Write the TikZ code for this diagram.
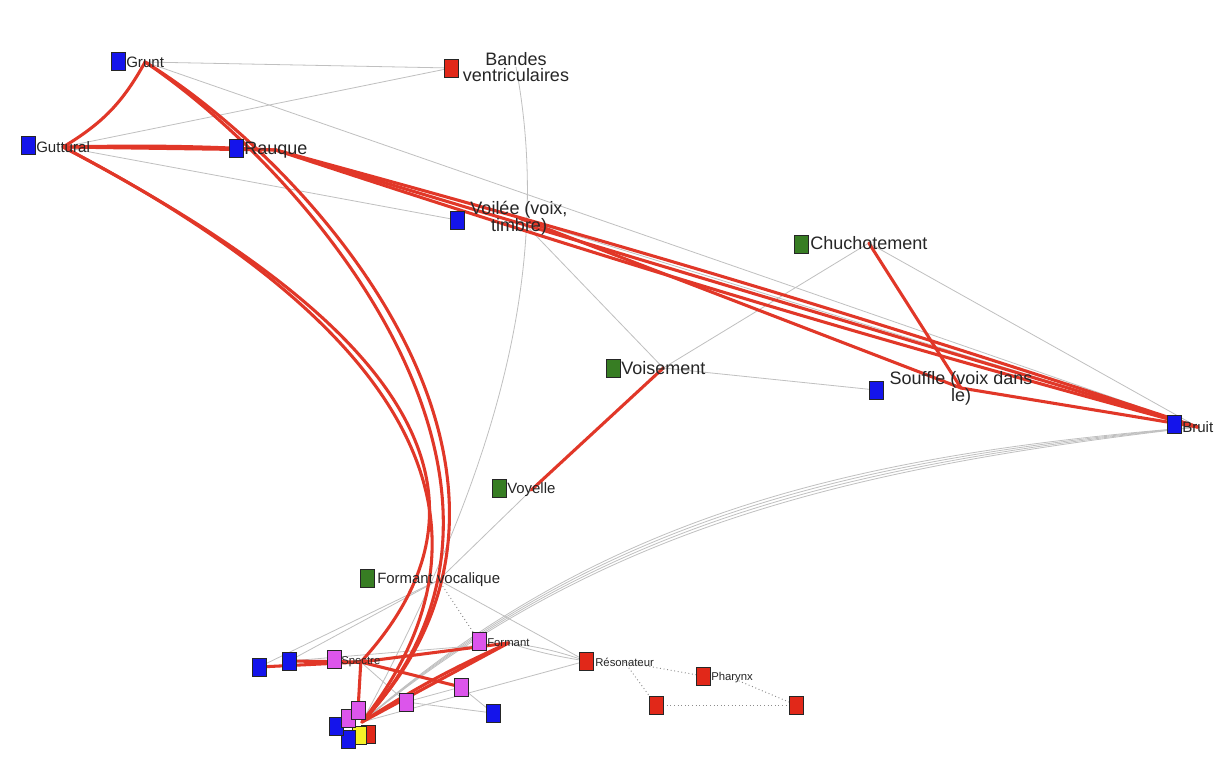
\documentclass[tikz,border=0pt]{standalone}
\usepackage{fontspec}
\setmainfont{Liberation Sans}
\definecolor{nblue}{RGB}{20,20,235}
\definecolor{ngreen}{RGB}{55,125,35}
\definecolor{nred}{RGB}{225,40,25}
\definecolor{npink}{RGB}{220,85,235}
\definecolor{nyellow}{RGB}{245,240,40}
\definecolor{ered}{RGB}{225,55,40}
\definecolor{egray}{RGB}{192,192,192}
\pgfdeclarelayer{bg}
\pgfsetlayers{bg,main}
\tikzset{
 sq/.style={draw=black!85, line width=0.5pt, minimum width=10.5pt, minimum height=13.5pt, inner sep=0pt},
 lbl/.style={inner sep=0pt, text=black!85},
 big/.style={lbl, font=\fontsize{13.5}{15.5}\selectfont, align=center},
 mid/.style={lbl, font=\fontsize{11.2}{12}\selectfont},
 sml/.style={lbl, font=\fontsize{11.3}{12}\selectfont},
 tiny/.style={lbl, font=\fontsize{8.5}{10}\selectfont},
 redge/.style={draw=ered, line width=2.3pt, line cap=round},
 gedge/.style={draw=egray, line width=0.6pt},
 dedge/.style={draw=black!45, line width=0.7pt, dotted},
}
\begin{document}
\begin{tikzpicture}[x=0.75pt,y=-0.75pt]
\useasboundingbox (0,0) rectangle (1232,776);
% ---- labels
\node[sml,anchor=west] (gruntL) at (126,62) {Grunt};
\node[big] (bandesL) at (516,67) {Bandes\\[-3pt]ventriculaires};
\node[sml,anchor=west] (gutL) at (36,147) {Guttural};
\node[big,anchor=west] (rauL) at (244,150) {Rauque};
\node[big] (voileeL) at (519,218) {Voilée (voix,\\[-3pt]timbre)};
\node[big,anchor=west] (chuchL) at (810,243) {Chuchotement};
\node[big,anchor=west] (voisL) at (621,368) {Voisement};
\node[big] (souffleL) at (961,388) {Souffle (voix dans\\[-3pt]le)};
\node[sml,anchor=west] (bruitL) at (1182,427) {Bruit};
\node[mid,anchor=west] (voyL) at (507,490) {Voyelle};
\node[mid,anchor=west] (fvL) at (377,580) {Formant vocalique};
\node[tiny,anchor=west] (formantL) at (487,643) {Formant};
\node[tiny,anchor=west] (spectreL) at (341,662) {Spectre};
\node[tiny,anchor=west] (resL) at (595,662) {Résonateur};
\node[tiny,anchor=west] (pharL) at (711,678) {Pharynx};
% ---- squares
\node[sq,fill=nblue] (grunt) at (118,61) {};
\node[sq,fill=nred] (bandes) at (451,68) {};
\node[sq,fill=nblue] (gut) at (28,145) {};
\node[sq,fill=nblue] (rau) at (236,148) {};
\node[sq,fill=nblue] (voilee) at (457,220) {};
\node[sq,fill=ngreen] (chuch) at (801,244) {};
\node[sq,fill=ngreen] (vois) at (613,368) {};
\node[sq,fill=nblue] (souffle) at (876,390) {};
\node[sq,fill=nblue] (bruit) at (1174,424) {};
\node[sq,fill=ngreen] (voy) at (499,488) {};
\node[sq,fill=ngreen] (fv) at (367,578) {};
\node[sq,fill=npink] (formant) at (479,641) {};
\node[sq,fill=npink] (spectre) at (334,659) {};
\node[sq,fill=nblue] (b2) at (289,661) {};
\node[sq,fill=nblue] (b1) at (259,667) {};
\node[sq,fill=nred] (res) at (586,661) {};
\node[sq,fill=nred] (phar) at (703,676) {};
\node[sq,fill=nred] (r1) at (656,705) {};
\node[sq,fill=nred] (r2) at (796,705) {};
\node[sq,fill=npink] (p1) at (461,687) {};
\node[sq,fill=npink] (p2) at (406,702) {};
\node[sq,fill=nblue] (b3) at (493,713) {};
\node[sq,fill=nred] (cred) at (368,734) {};
\node[sq,fill=nyellow] (cyel) at (359,735) {};
\node[sq,fill=nblue] (cb2) at (348,739) {};
\node[sq,fill=nblue] (cb1) at (336,726) {};
\node[sq,fill=npink] (cp2) at (348,718) {};
\node[sq,fill=npink] (cp1) at (358,710) {};
\coordinate (hub) at (362,722);
% ---- edges
\begin{pgfonlayer}{bg}
\fill[white] (0,0) rectangle (1232,776);
% gray edges
\draw[gedge] (gruntL.center) -- (bandes.center);
\draw[gedge] (gutL.center) -- (bandes.center);
\draw[gedge] (gruntL.center) -- (bruitL.center);
\draw[gedge] (gutL.center) -- (voilee.center);
\draw[gedge] (voileeL.center) -- (voisL.center);
\draw[gedge] (voileeL.center) -- (bruitL.center);
\draw[gedge] (chuchL.center) -- (voisL.center);
\draw[gedge] (chuchL.center) -- (bruitL.center);
\draw[gedge] (voisL.center) -- (souffle.center);
\draw[gedge] (voyL.center) -- (fvL.center);
\draw[gedge] (bandesL.center) .. controls (560,300) and (470,520) .. (hub);
\foreach \d in {0,4,8,12}{
  \draw[gedge] (bruitL.center) .. controls (850,455+\d) and (600,515+\d) .. (hub);
}
\draw[gedge] (b2.center) -- (fvL.center);
\draw[gedge] (b1.center) -- (fvL.center);
\draw[gedge] (b2.center) -- (formantL.center);
\draw[gedge] (fvL.center) -- (res.center);
\draw[gedge] (formantL.center) to[bend left=6] (res.center);
\draw[gedge] (formantL.center) to[bend right=4] (res.center);
\draw[gedge] (p2.center) -- (p1.center);
\draw[gedge] (p1.center) -- (b3.center);
\draw[gedge] (spectreL.center) -- (p2.center);
\draw[gedge] (hub) -- (res.center);
\draw[gedge] (p2.center) -- (b3.center);
% dotted edges
\draw[dedge] (fvL.center) -- (formant.center);
\draw[dedge] (resL.center) -- (phar.center);
\draw[dedge] (resL.center) -- (r1.center);
\draw[dedge] (r1.center) -- (r2.center);
\draw[dedge] (pharL.center) -- (r2.center);
% red edges
\draw[redge] (gruntL.center) to[bend left=15] (gutL.center);
\draw[redge] (gutL.center) -- (rauL.center);
\draw[redge] (gutL.center) to[bend left=2] (rauL.center);
\draw[redge] (gruntL.center) .. controls (320,170) and (590,480) .. (hub);
\draw[redge] (gruntL.center) .. controls (314,176) and (578,490) .. (hub);
\draw[redge] (gutL.center) .. controls (300,270) and (560,470) .. (hub);
\draw[redge] (gutL.center) .. controls (300,272) and (555,450) .. (spectreL.center);
\draw[redge] (rauL.center) -- (bruitL.center);
\draw[redge] (rauL.center) to[bend left=1.5] (bruitL.center);
\draw[redge] (rauL.center) to[bend right=1.5] (bruitL.center);
\draw[redge] (voileeL.center) -- (souffleL.center);
\draw[redge] (souffleL.center) -- (bruitL.center);
\draw[redge] (chuchL.center) -- (souffleL.center);
\draw[redge] (voisL.center) -- (voyL.center);
\draw[redge] (b1.center) -- (spectreL.center);
\draw[redge] (b2.center) -- (spectreL.center);
\draw[redge] (spectreL.center) -- (formantL.center);
\draw[redge] (spectreL.center) -- (p1.center);
\draw[redge] (spectreL.center) -- (cp1.center);
\draw[redge] (hub) -- (formantL.center);
\draw[redge] (hub) to[bend left=4] (formantL.center);
\end{pgfonlayer}
\end{tikzpicture}
\end{document}
